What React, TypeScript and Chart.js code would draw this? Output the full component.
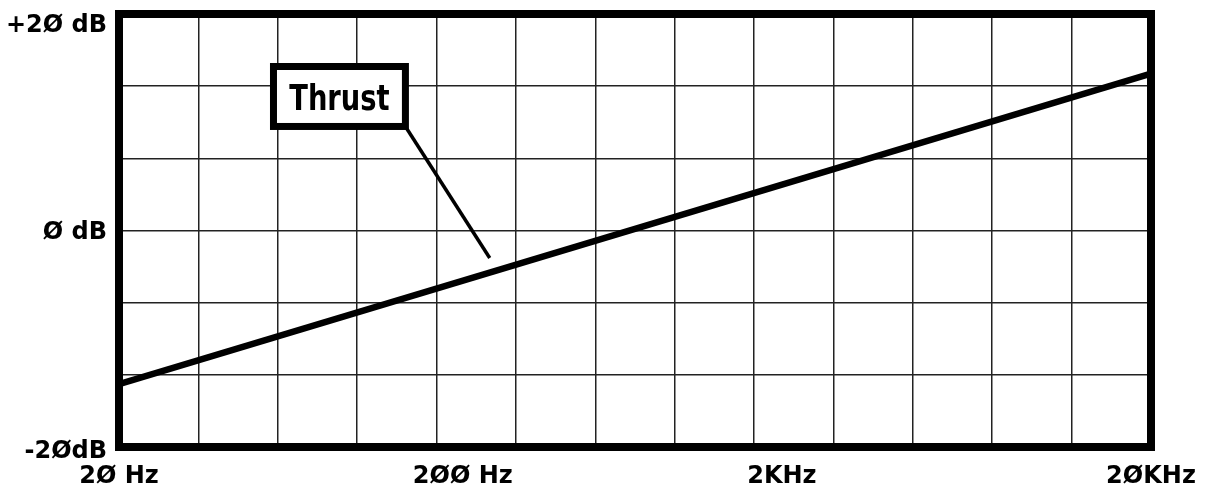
import { useEffect, useRef } from 'react';
import { Chart, registerables } from 'chart.js';

Chart.register(...registerables);

// ---- data ----
const xDivisions = 13; // grid columns
const yDivisions = 6; // grid rows
const xTickLabels = ['2Ø Hz', '2ØØ Hz', '2KHz', '2ØKHz'];
const xTickPositions = [0, 4.33, 8.35, 13];
const yTickLabels = ['+2Ø dB', 'Ø dB', '-2ØdB'];
const yTickValues = [18.9, -0.2, -20.4];
const seriesX = [0, 13];
const seriesDb = [-14.2, 14.5];
const annotationText = 'Thrust';

// annotation placement (data units)
const annot = {
  left: 1.946,
  right: 3.608,
  top: 15.15,
  bottom: 9.61,
  leaderX: 4.67,
  leaderY: -2.54,
};

const FONT = '"DejaVu Sans", sans-serif';

const noPad = (s: any) => {
  s.paddingTop = 0;
  s.paddingBottom = 0;
  s.paddingLeft = 0;
  s.paddingRight = 0;
};

const framePlugin = {
  id: 'frameAndNote',
  afterDatasetsDraw(chart: any) {
    const { ctx, chartArea } = chart;
    const xs = chart.scales.x;
    const ys = chart.scales.y;
    ctx.save();
    // frame
    ctx.strokeStyle = '#000';
    ctx.lineWidth = 8;
    ctx.strokeRect(
      chartArea.left,
      chartArea.top,
      chartArea.right - chartArea.left,
      chartArea.bottom - chartArea.top
    );
    // annotation
    const l = xs.getPixelForValue(annot.left);
    const r = xs.getPixelForValue(annot.right);
    const t = ys.getPixelForValue(annot.top);
    const b = ys.getPixelForValue(annot.bottom);
    // leader
    ctx.lineWidth = 3.5;
    ctx.beginPath();
    ctx.moveTo(r, b);
    ctx.lineTo(xs.getPixelForValue(annot.leaderX), ys.getPixelForValue(annot.leaderY));
    ctx.stroke();
    // box
    ctx.fillStyle = '#fff';
    ctx.fillRect(l, t, r - l, b - t);
    ctx.lineWidth = 7;
    ctx.strokeRect(l, t, r - l, b - t);
    // text
    const fs = 36;
    ctx.font = `bold ${fs}px ${FONT}`;
    ctx.fillStyle = '#000';
    ctx.textAlign = 'center';
    ctx.textBaseline = 'alphabetic';
    ctx.translate((l + r) / 2, (t + b) / 2 + fs * 0.365);
    ctx.scale(0.76, 1);
    ctx.fillText(annotationText, 0, 0);
    ctx.restore();
  },
};

export default function App() {
  const ref = useRef<HTMLCanvasElement | null>(null);

  useEffect(() => {
    if (!ref.current) return;
    const tickFont = { family: FONT, size: 24, weight: 'bold' as const };
    const gridOpts = { color: '#222', lineWidth: 1.5, drawTicks: false };
    const chart = new Chart(ref.current, {
      type: 'line',
      data: {
        datasets: [
          {
            data: seriesX.map((x, i) => ({ x, y: seriesDb[i] })),
            borderColor: '#000',
            borderWidth: 6.5,
            pointRadius: 0,
            xAxisID: 'x',
            yAxisID: 'y',
          },
        ],
      },
      options: {
        responsive: false,
        animation: false,
        layout: { autoPadding: false, padding: { top: 14, right: 66, bottom: 0, left: 0 } },
        plugins: { legend: { display: false }, tooltip: { enabled: false } },
        scales: {
          x: {
            type: 'linear',
            position: 'bottom',
            min: 0,
            max: xDivisions,
            afterBuildTicks: (s: any) => {
              s.ticks = Array.from({ length: xDivisions + 1 }, (_, i) => ({ value: i }));
            },
            ticks: { display: false },
            grid: gridOpts,
            border: { display: false },
            afterFit: (s: any) => {
              s.height = 0;
              noPad(s);
            },
          },
          xLabels: {
            type: 'linear',
            position: 'bottom',
            min: 0,
            max: xDivisions,
            afterBuildTicks: (s: any) => {
              s.ticks = xTickPositions.map((v) => ({ value: v }));
            },
            ticks: {
              callback: (_v: any, i: number) => xTickLabels[i],
              font: tickFont,
              color: '#000',
              padding: 7,
              maxRotation: 0,
              autoSkip: false,
            },
            grid: { display: false },
            border: { display: false },
            afterFit: (s: any) => {
              s.height = 42;
              noPad(s);
            },
          },
          y: {
            type: 'linear',
            position: 'left',
            min: -20,
            max: 20,
            afterBuildTicks: (s: any) => {
              s.ticks = Array.from({ length: yDivisions + 1 }, (_, i) => ({
                value: -20 + (i * 40) / yDivisions,
              }));
            },
            ticks: { display: false },
            grid: gridOpts,
            border: { display: false },
            afterFit: (s: any) => {
              s.width = 0;
              noPad(s);
            },
          },
          yLabels: {
            type: 'linear',
            position: 'left',
            min: -20,
            max: 20,
            afterBuildTicks: (s: any) => {
              s.ticks = yTickValues.map((v) => ({ value: v }));
            },
            ticks: {
              callback: (_v: any, i: number) => yTickLabels[i],
              font: tickFont,
              color: '#000',
              padding: 4,
              autoSkip: false,
            },
            grid: { display: false },
            border: { display: false },
            afterFit: (s: any) => {
              s.width = 119;
              noPad(s);
            },
          },
        },
      },
      plugins: [framePlugin],
    });
    return () => chart.destroy();
  }, []);

  return (
    <div
      style={{
        position: 'fixed',
        left: 0,
        top: 0,
        width: 1217,
        height: 489,
        background: '#fff',
      }}
    >
      <canvas ref={ref} width={1217} height={489} style={{ display: 'block', width: 1217, height: 489 }} />
    </div>
  );
}
